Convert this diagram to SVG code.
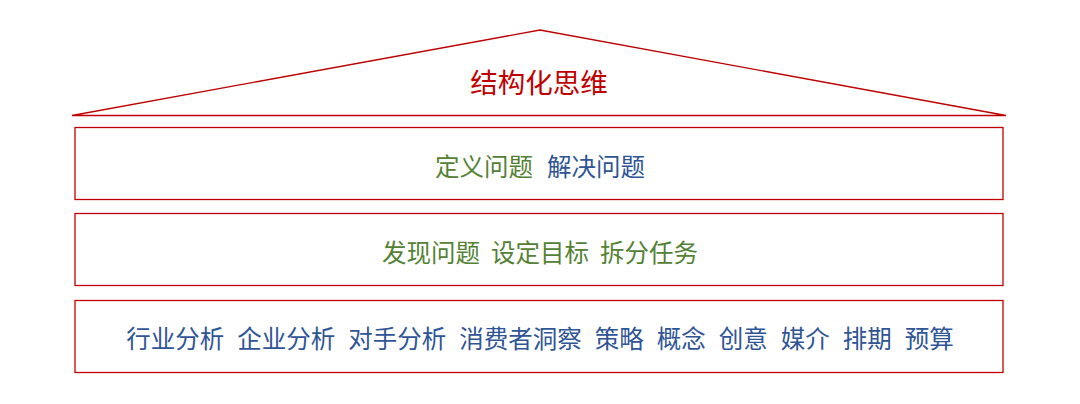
<svg xmlns="http://www.w3.org/2000/svg" width="1080" height="404" viewBox="0 0 1080 404">
<style>
.b{fill:#fff;stroke:#C00000;stroke-width:1.3}
text{font-family:"Noto Sans CJK SC",sans-serif;font-size:24.5px;text-anchor:middle;dominant-baseline:central}
.g{fill:#548235}.u{fill:#2F5597}
</style>
<rect width="1080" height="404" fill="#fff"/>
<g id="roof"><polygon class="b" points="72,115.5 540,30 1006,115.5"/><text x="539" y="81" style="fill:#C00000;font-size:27.5px">结构化思维</text></g>
<g id="row1"><rect class="b" x="75" y="127.5" width="928" height="72"/><text x="540" y="165"><tspan class="g">定义问题</tspan><tspan class="u" dx="14">解决问题</tspan></text></g>
<g id="row2"><rect class="b" x="75" y="213.5" width="928" height="72"/><text x="540" y="251" class="g" xml:space="preserve">发现问题  设定目标  拆分任务</text></g>
<g id="row3"><rect class="b" x="75" y="300.5" width="928" height="72"/><text x="540" y="337" class="u" style="word-spacing:1px" xml:space="preserve">行业分析  企业分析  对手分析  消费者洞察  策略  概念  创意  媒介  排期  预算</text></g>
<g id="connectors"/>
</svg>
